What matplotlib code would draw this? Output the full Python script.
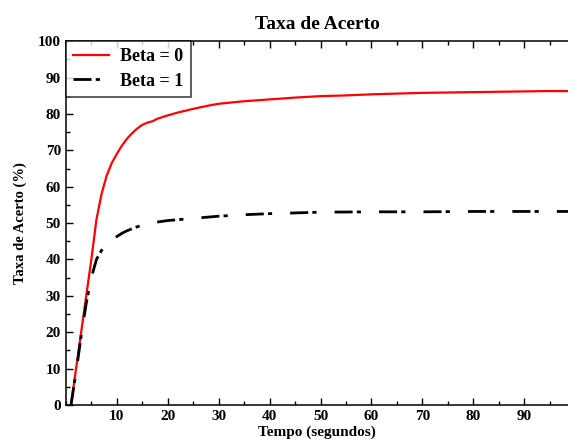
import numpy as np
import matplotlib.pyplot as plt
from matplotlib.ticker import MultipleLocator

plt.rcParams['font.family'] = ['Liberation Serif', 'DejaVu Serif']
plt.rcParams['font.weight'] = 'bold'
plt.rcParams['lines.scale_dashes'] = False

# Beta = 0 (red, solid)
tempo_b0 = [1, 2, 3, 4, 5, 6, 7, 8, 9, 10, 11, 12, 13, 14, 15, 16, 17, 18, 20, 22,
            25, 28, 30, 35, 40, 45, 50, 55, 60, 65, 70, 75, 80, 85, 90, 95, 99]
taxa_b0 = [0, 10, 20, 30, 40, 51, 58, 63, 66.5, 69, 71.3, 73.2, 74.7, 76, 77, 77.6,
           78, 78.7, 79.6, 80.4, 81.4, 82.3, 82.8, 83.5, 84, 84.5, 84.9, 85.1, 85.4,
           85.6, 85.8, 85.9, 86, 86.1, 86.2, 86.3, 86.3]

# Beta = 1 (black, dash-dot)
tempo_b1 = [1, 2, 3, 4, 5, 6, 7, 8, 9, 10, 11, 12, 14, 16, 18, 20, 25, 30, 35, 40,
            50, 60, 70, 80, 90, 99]
taxa_b1 = [0, 9, 19, 28, 35, 40, 42.5, 44, 45.3, 46.3, 47.2, 47.9, 49, 49.8, 50.3,
           50.7, 51.3, 51.9, 52.3, 52.6, 53, 53.1, 53.1, 53.2, 53.2, 53.2]

fig = plt.figure(figsize=(5.68, 4.48), dpi=100)
ax = fig.add_axes([0.116, 0.096, 0.884, 0.812])

ax.plot(tempo_b0, taxa_b0, color='red', linewidth=1.6, label='Beta = 0')
ax.plot(tempo_b1, taxa_b1, color='black', linewidth=2,
        linestyle=(0, (13, 3, 3, 13)), label='Beta = 1')

ax.set_xlim(0, 98.6)
ax.set_ylim(0, 100)
ax.xaxis.set_minor_locator(MultipleLocator(5))
ax.yaxis.set_major_locator(MultipleLocator(10))
ax.yaxis.set_minor_locator(MultipleLocator(5))
ax.set_xticks(np.arange(10, 100, 10))
ax.tick_params(which='both', direction='in', top=True, right=False, labelsize=11)
ax.tick_params(which='major', length=5, width=1)
ax.tick_params(which='minor', length=3, width=1)
ax.spines['right'].set_visible(False)
for s in ['left', 'top', 'bottom']:
    ax.spines[s].set_linewidth(1.1)

ax.set_title('Taxa de Acerto', fontsize=14, fontweight='bold', pad=9)
ax.set_xlabel('Tempo (segundos)', fontsize=11, fontweight='bold', labelpad=2)
ax.set_ylabel('Taxa de Acerto (%)', fontsize=10.5, fontweight='bold', labelpad=8)

leg = ax.legend(loc='upper left', fontsize=13, frameon=True, fancybox=False,
                edgecolor='black', borderaxespad=0, handlelength=2.0,
                borderpad=0.4, labelspacing=0.4, handletextpad=0.6)
leg.get_frame().set_linewidth(1.1)

fig.savefig('out.png', dpi=100)
